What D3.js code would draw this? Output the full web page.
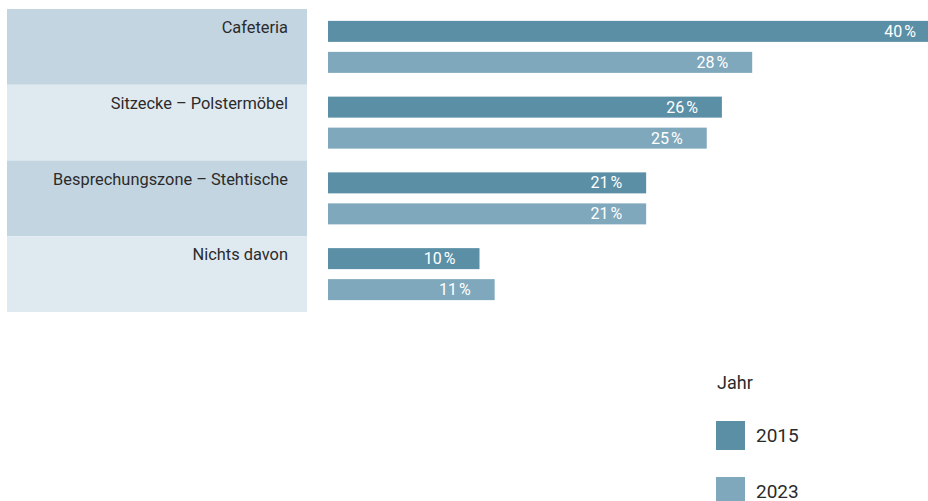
<!DOCTYPE html>
<html>
<head>
<meta charset="utf-8">
<script src="https://cdn.jsdelivr.net/npm/d3@7"></script>
<style>
  body { margin: 0; background: #fff; }
  svg { display: block; font-family: Roboto, "Noto Sans", sans-serif; }
</style>
</head>
<body>
<svg id="chart" width="928" height="501"></svg>
<script>
// data
var categories = ["Cafeteria", "Sitzecke \u2013 Polstermöbel", "Besprechungszone \u2013 Stehtische", "Nichts davon"];
var years = ["2015", "2023"];
var values2015 = [40.4, 26, 21, 10];
var values2023 = [28, 25, 21, 11];
var colors = ["#5b8fa6", "#7fa8bc"];
var bandColors = ["#c3d5e1", "#dfe9f0"];

var svg = d3.select("#chart");

var y = d3.scaleBand().domain(categories).range([9, 312]);
var x = d3.scaleLinear().domain([0, 40]).range([328, 934]);
var barH = 21, gap = 10;

var rows = categories.map(function(c, i){
  return { cat: c, vals: [values2015[i], values2023[i]] };
});

// background bands
svg.selectAll("rect.band")
  .data(rows).enter()
  .append("rect")
  .attr("class", "band")
  .attr("x", 7)
  .attr("y", function(d){ return y(d.cat); })
  .attr("width", 300)
  .attr("height", y.bandwidth())
  .attr("fill", function(d, i){ return bandColors[i % 2]; });

// category labels
svg.selectAll("text.cat")
  .data(rows).enter()
  .append("text")
  .attr("class", "cat")
  .attr("x", 288)
  .attr("y", function(d){ return y(d.cat) + 24; })
  .attr("text-anchor", "end")
  .attr("font-size", 16.4)
  .attr("fill", "#2b2b2b")
  .text(function(d){ return d.cat; });

// bars
var groups = svg.selectAll("g.row")
  .data(rows).enter()
  .append("g")
  .attr("class", "row")
  .attr("transform", function(d){
    var top = y(d.cat) + (y.bandwidth() - (2 * barH + gap)) / 2;
    return "translate(0," + top + ")";
  });

groups.selectAll("rect.bar")
  .data(function(d){ return d.vals; }).enter()
  .append("rect")
  .attr("class", "bar")
  .attr("x", x(0))
  .attr("y", function(v, j){ return j * (barH + gap); })
  .attr("width", function(v){ return x(v) - x(0); })
  .attr("height", barH)
  .attr("fill", function(v, j){ return colors[j]; });

groups.selectAll("text.val")
  .data(function(d){ return d.vals; }).enter()
  .append("text")
  .attr("class", "val")
  .attr("x", function(v){ return x(v) - 24; })
  .attr("y", function(v, j){ return j * (barH + gap) + 16; })
  .attr("text-anchor", "end")
  .attr("font-size", 16)
  .attr("fill", "#ffffff")
  .text(function(v){ return d3.format(".0f")(v) + "\u202F%"; });

// legend
var legend = svg.append("g").attr("transform", "translate(716,0)");
legend.append("text")
  .attr("x", 1)
  .attr("y", 389)
  .attr("font-size", 18)
  .attr("fill", "#2b2b2b")
  .text("Jahr");

var items = legend.selectAll("g.item")
  .data(years).enter()
  .append("g")
  .attr("class", "item")
  .attr("transform", function(d, i){ return "translate(0," + (421 + i * 56) + ")"; });

items.append("rect")
  .attr("width", 29)
  .attr("height", 29)
  .attr("fill", function(d, i){ return colors[i]; });

items.append("text")
  .attr("x", 40)
  .attr("y", 21)
  .attr("font-size", 19)
  .attr("fill", "#2b2b2b")
  .text(function(d){ return d; });
</script>
</body>
</html>
